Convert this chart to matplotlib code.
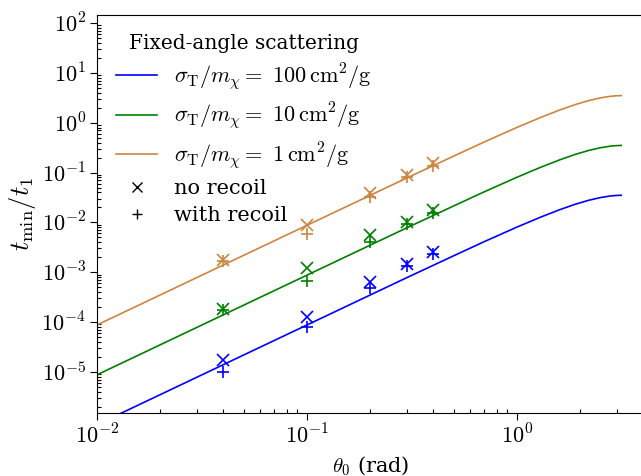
import matplotlib
matplotlib.use("Agg")
import matplotlib.pyplot as plt
from matplotlib.lines import Line2D
from matplotlib.ticker import FuncFormatter, LogLocator, NullFormatter
import numpy as np

plt.rcParams['mathtext.fontset'] = 'cm'
plt.rcParams['font.family'] = ['DejaVu Serif']

# curve samples
theta_line = [0.01, 0.02, 0.05, 0.1, 0.2, 0.3, 0.5, 0.7, 1.0, 1.3, 1.6, 1.9, 2.2, 2.5, 2.8, 3.0, 3.14]
t_line_1 = [8.75e-5, 3.5e-4, 2.19e-3, 8.74e-3, 0.0349, 0.0784, 0.214, 0.412, 0.804,
            1.28, 1.80, 2.32, 2.78, 3.15, 3.40, 3.48, 3.50]
t_line_10 = [8.75e-6, 3.5e-5, 2.19e-4, 8.74e-4, 0.00349, 0.00784, 0.0214, 0.0412, 0.0804,
             0.128, 0.180, 0.232, 0.278, 0.315, 0.340, 0.348, 0.350]
t_line_100 = [8.75e-7, 3.5e-6, 2.19e-5, 8.74e-5, 0.000349, 0.000784, 0.00214, 0.00412, 0.00804,
              0.0128, 0.0180, 0.0232, 0.0278, 0.0315, 0.0340, 0.0348, 0.0350]

# simulation points
theta_pts = [0.04, 0.1, 0.2, 0.3, 0.4]
norec_1 = [1.8e-3, 9.0e-3, 0.0386, 0.091, 0.153]
rec_1 = [1.7e-3, 5.9e-3, 0.032, 0.081, 0.138]
norec_10 = [1.82e-4, 1.22e-3, 5.5e-3, 0.0102, 0.0174]
rec_10 = [1.75e-4, 6.8e-4, 4.0e-3, 9.1e-3, 0.0156]
norec_100 = [1.74e-5, 1.24e-4, 6.4e-4, 1.49e-3, 2.55e-3]
rec_100 = [1.02e-5, 7.8e-5, 4.9e-4, 1.32e-3, 2.29e-3]

labels = [r'$\sigma_{\rm T}/m_\chi =\ 100\,{\rm cm}^2/{\rm g}$',
          r'$\sigma_{\rm T}/m_\chi =\ 10\,{\rm cm}^2/{\rm g}$',
          r'$\sigma_{\rm T}/m_\chi =\ 1\,{\rm cm}^2/{\rm g}$']
colors = ['blue', 'green', 'peru']

fig = plt.figure(figsize=(6.41, 4.76), dpi=100)
ax = fig.add_axes([97/641, 63/476, 557/641, 398/476])

series = [(t_line_100, norec_100, rec_100), (t_line_10, norec_10, rec_10), (t_line_1, norec_1, rec_1)]
handles = []
for (ln, nr, wr), c, lab in zip(series, colors, labels):
    h, = ax.plot(theta_line, ln, color=c, lw=1.2, label=lab)
    handles.append(h)
    ax.plot(theta_pts, nr, ls='none', marker='x', ms=8, mew=1.2, color=c)
    ax.plot(theta_pts, wr, ls='none', marker='+', ms=8, mew=1.2, color=c)

handles.append(Line2D([], [], ls='none', marker='x', ms=7, mew=1.0, color='black', label='no recoil'))
handles.append(Line2D([], [], ls='none', marker='+', ms=7, mew=1.0, color='black', label='with recoil'))

ax.set_xscale('log')
ax.set_yscale('log')
ax.set_xlim(0.01, 4.5)
ax.set_ylim(1.5e-6, 1.45e2)

fmt = FuncFormatter(lambda v, p: r'$10^{%d}$' % int(round(np.log10(v))))
for axis in (ax.xaxis, ax.yaxis):
    axis.set_major_locator(LogLocator(base=10, numticks=30))
    axis.set_minor_locator(LogLocator(base=10, subs=np.arange(2, 10), numticks=30))
    axis.set_major_formatter(fmt)
    axis.set_minor_formatter(NullFormatter())

ax.tick_params(which='major', direction='out', length=5, width=0.8, labelsize=16, pad=3)
ax.tick_params(which='minor', direction='in', length=3, width=0.8)

ax.set_xlabel(r'$\theta_0$ (rad)', fontsize=15)
ax.xaxis.set_label_coords((371 - 97) / 557, -(455 - 413) / 398)
ax.set_ylabel(r'$t_{\rm min}/t_1$', fontsize=19)
ax.yaxis.set_label_coords(-(97 - 38) / 557, (413 - 214) / 398)

leg = ax.legend(handles=handles, loc='upper left', frameon=False, fontsize=15,
                title='Fixed-angle scattering', title_fontsize=14.5,
                handlelength=2.0, labelspacing=0.4, bbox_to_anchor=(0.0, 1.0))
for t in leg.get_texts()[:3]:
    t.set_fontsize(16)

fig.savefig('out.png', dpi=100)
